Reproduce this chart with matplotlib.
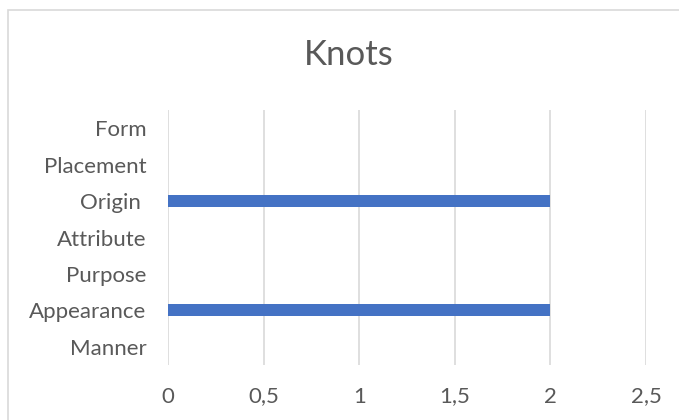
import matplotlib
matplotlib.use("Agg")
import matplotlib.pyplot as plt
from matplotlib.patches import Rectangle

categories = ["Form", "Placement", "Origin ", "Attribute", "Purpose", "Appearance", "Manner"]
values = [0, 0, 2, 0, 0, 2, 0]
xticks = [0, 0.5, 1, 1.5, 2, 2.5]
xtick_labels = ["0", "0,5", "1", "1,5", "2", "2,5"]
title = "Knots"

TEXT = "#595959"
GRID = "#d9d9d9"
BAR = "#4472C4"

plt.rcParams['font.family'] = ['Lato', 'DejaVu Sans']

fig = plt.figure(figsize=(6.79, 4.2), dpi=100)
fig.patch.set_facecolor("white")

# outer chart border (extends beyond right/bottom edges)
fig.add_artist(Rectangle((8 / 679, -0.05), 1.1, 1 - 10 / 420 + 0.05,
                         transform=fig.transFigure, fill=False,
                         edgecolor=GRID, linewidth=1.2))

ax = fig.add_axes([168 / 679, 1 - 365 / 420, (646 - 168) / 679, (365 - 110) / 420])
n = len(categories)
ypos = list(range(n - 1, -1, -1))
ax.barh(ypos, values, height=0.33, color=BAR, zorder=3)
ax.set_ylim(-0.5, n - 0.5)
ax.set_xlim(0, 2.5)
ax.set_yticks(ypos)
ax.set_yticklabels(categories)
ax.set_xticks(xticks)
ax.set_xticklabels(xtick_labels)
for s in ax.spines.values():
    s.set_visible(False)
ax.grid(axis='x', color=GRID, linewidth=1.2, zorder=0)
ax.tick_params(axis='both', length=0, labelsize=16, colors=TEXT)
ax.tick_params(axis='y', pad=15.5)
ax.tick_params(axis='x', pad=15.5)

fig.text(349 / 679, 1 - 55 / 420, title, ha='center', va='center',
         fontsize=25, color=TEXT)

fig.savefig("out.png", dpi=100)
